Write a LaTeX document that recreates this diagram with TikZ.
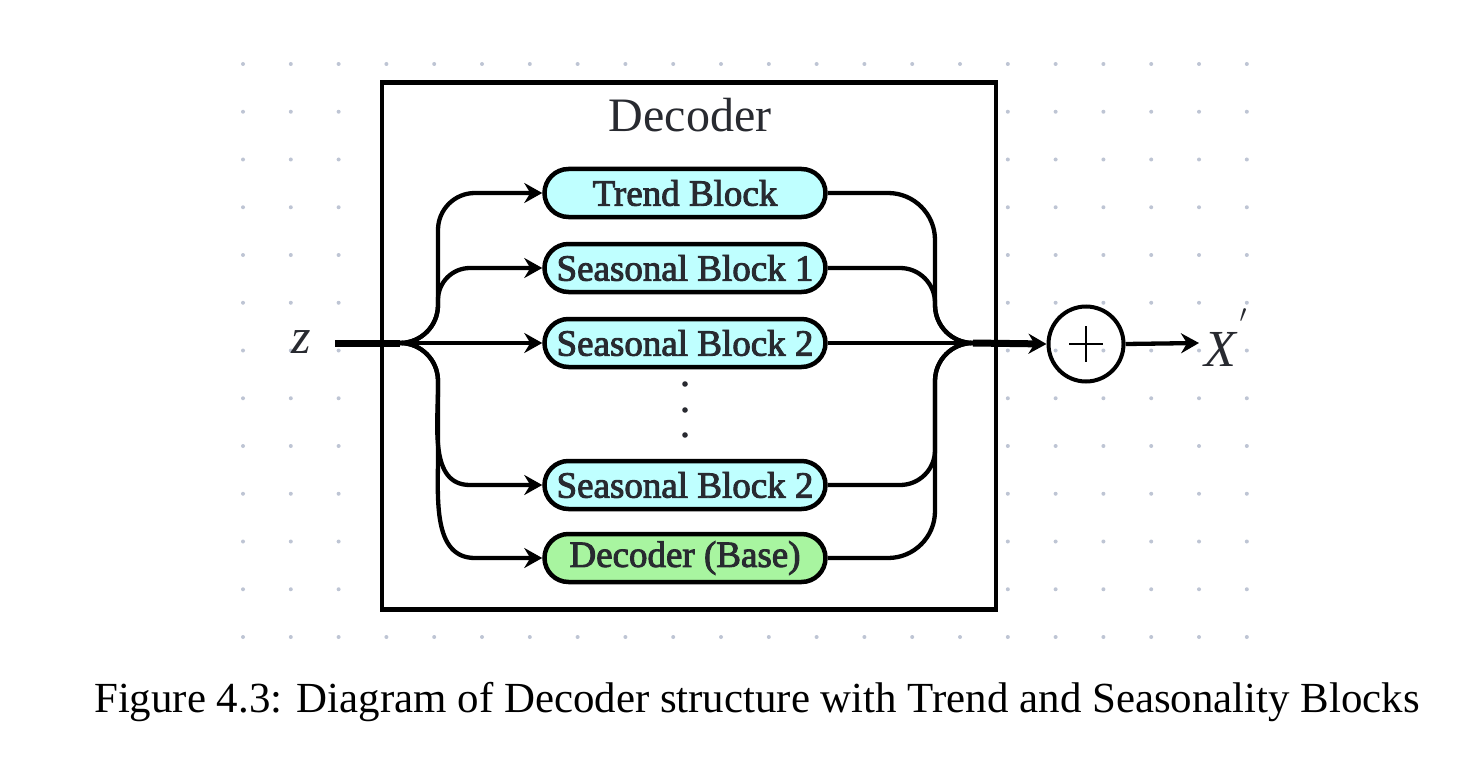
\documentclass[tikz,border=0pt]{standalone}
\usepackage{fontspec}
\setmainfont{Liberation Serif}
\newfontfamily\blkfont{Liberation Serif}[FakeBold=2.5]
\usetikzlibrary{arrows.meta,calc}
\definecolor{cyanf}{RGB}{191,255,255}
\definecolor{greenf}{RGB}{168,245,160}
\definecolor{dotc}{RGB}{190,197,212}
\definecolor{txt}{RGB}{40,42,48}
\tikzset{
  blk/.style={draw, line width=4.5pt, rounded corners=24pt, minimum width=281pt, minimum height=48pt,
    inner sep=0pt, text=txt, font=\blkfont\fontsize{37}{37}\selectfont},
  conn/.style={line width=4.3pt, -{Stealth[length=18pt,width=20pt,inset=6pt]}},
  plain/.style={line width=4.3pt},
  thick conn/.style={line width=7pt, -{Stealth[length=18pt,width=20pt,inset=6pt]}},
}
\begin{document}
\begin{tikzpicture}[x=1pt,y=-1pt]
\useasboundingbox (0,0) rectangle (1479,762);
% dot grid
\foreach \i in {0,...,21} {
  \foreach \j in {0,...,12} {
    \fill[dotc] (243+47.8*\i, 64+47.75*\j) circle (2);
  }
}
% decoder frame
\node[draw, line width=4.5pt, fill=white, minimum width=614pt, minimum height=527pt, inner sep=0pt] (dec) at (689,346) {};
\node[font=\fontsize{48}{48}\selectfont, text=txt] (title) at (690,115) {Decoder};
% blocks
\node[blk, fill=cyanf] (trend) at (685,193) {Trend Block};
\node[blk, fill=cyanf] (s1) at (685,268) {Seasonal Block 1};
\node[blk, fill=cyanf] (s2) at (685,343) {Seasonal Block 2};
\node[blk, fill=cyanf] (s3) at (685,485) {Seasonal Block 2};
\node[blk, fill=greenf] (base) at (685,558) {Decoder (Base)};
% vertical dots
\fill[txt] (685,384) circle (2.8) (685,410) circle (2.8) (685,435) circle (2.8);
% inputs / outputs
\node[font=\fontsize{50}{50}\selectfont\itshape, text=txt, inner xsep=0pt] (zn) at (301,342) {z};
\coordinate (zend) at (335,343);
\coordinate (split) at (400,343);
\coordinate (merge) at (973,343);
\node[circle, draw, line width=4pt, minimum size=75pt, inner sep=0pt] (plus) at (1086,344) {};
\draw[line width=2.2pt] ($(plus.center)+(-17,0)$) -- ($(plus.center)+(17,0)$)
                      ($(plus.center)+(0,-18)$) -- ($(plus.center)+(0,18)$);
\node[font=\fontsize{52}{52}\selectfont, text=txt, anchor=base west, inner sep=0pt] (xout) at (1204,366)
  {\textit{X}\hspace{2pt}\raisebox{44pt}{\fontsize{60}{60}\selectfont$\prime$}};
\coordinate (xin) at (1199,343);
% input fan-out
\draw[line width=7pt] (zend) -- (split);
\draw[conn] (split) to[out=0,in=-90] (438,305) -- (438,230) to[out=90,in=180] (475,193) -- (trend.west);
\draw[conn] (split) to[out=0,in=-90] (438,305) -- (438,300) to[out=90,in=180] (470,268) -- (s1.west);
\draw[conn] (split) -- (s2.west);
\draw[conn] (split) to[out=0,in=90] (438,381) -- (438,386) to[out=-90,in=180] (470,485) -- (s3.west);
\draw[conn] (split) to[out=0,in=90] (438,381) -- (438,456) to[out=-90,in=180] (475,558) -- (base.west);
% output fan-in
\draw[plain] (trend.east) -- (888,193) to[out=0,in=90] (935,240) -- (935,305) to[out=-90,in=180] (merge);
\draw[plain] (s1.east) -- (900,268) to[out=0,in=90] (935,303) -- (935,305) to[out=-90,in=180] (merge);
\draw[plain] (s2.east) -- (merge);
\draw[plain] (s3.east) -- (900,485) to[out=0,in=-90] (935,450) -- (935,381) to[out=90,in=180] (merge);
\draw[plain] (base.east) -- (888,558) to[out=0,in=-90] (935,511) -- (935,381) to[out=90,in=180] (merge);
\draw[thick conn] (merge) -- (plus.west);
\draw[conn] (plus.east) -- (xin);
% caption
\node[font=\fontsize{42.9}{42.9}\selectfont, anchor=base, inner sep=0pt] (cap) at (757,712)
  {Figure 4.3: Diagram of Decoder structure with Trend and Seasonality Blocks};
\end{tikzpicture}
\end{document}
